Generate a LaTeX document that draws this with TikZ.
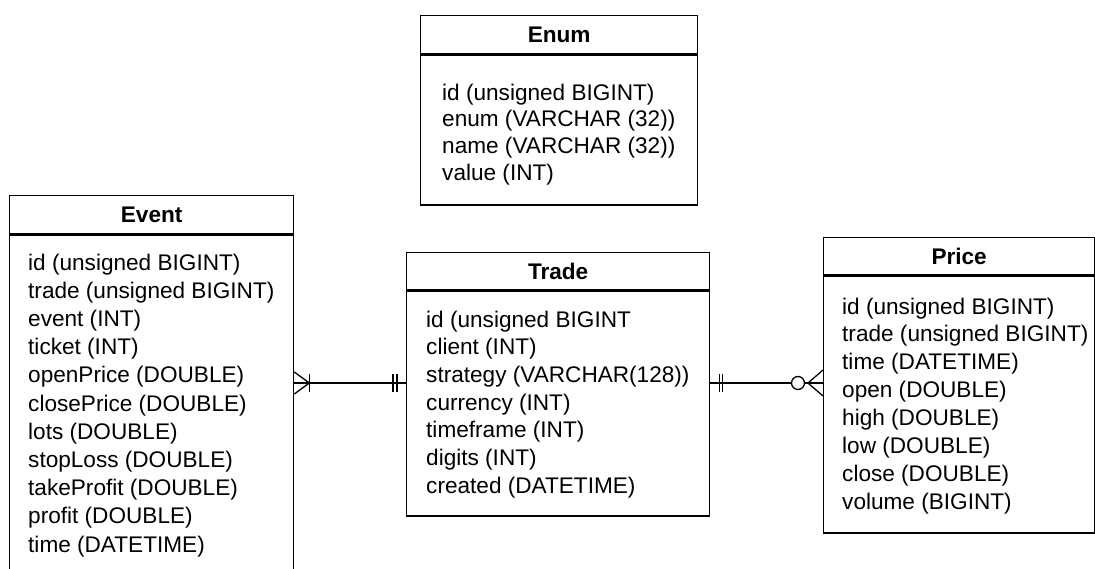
\documentclass[tikz,border=0pt]{standalone}
\usepackage{fontspec}
\setmainfont{Liberation Sans}

\begin{document}
\begin{tikzpicture}[x=1pt, y=-1pt]
\tikzset{tablehead/.style={draw, line width=1.3pt, anchor=north west, inner sep=0pt, font=\fontsize{22.6}{28}\selectfont\bfseries}}
\tikzset{tablebody/.style={draw, line width=1.3pt, anchor=north west, inner sep=0pt}}
\tikzset{field/.style={anchor=base west, inner sep=0pt, font=\fontsize{22.6}{28}\selectfont}}
\tikzset{rel/.style={line width=1.3pt}}
\useasboundingbox (0, 0) rectangle (1095, 568);
\clip (0, 0) rectangle (1095, 568);
% Enum
\node[tablehead, minimum width=277pt, minimum height=38pt] (enumhead) at (420, 15) {Enum};
\node[tablebody, minimum width=277pt, minimum height=150pt] (enumbody) at (enumhead.south west) {};
\foreach \txt [count=\i from 0] in {id (unsigned BIGINT), enum (VARCHAR (32)), name (VARCHAR (32)), value (INT)}
  \node[field] (enum-f\i) at (442, 100+\i*26.7) {\txt};
% Event
\node[tablehead, minimum width=284pt, minimum height=38pt] (eventhead) at (9, 195) {Event};
\node[tablebody, minimum width=284pt, minimum height=360pt] (eventbody) at (eventhead.south west) {};
\foreach \txt [count=\i from 0] in {id (unsigned BIGINT), trade (unsigned BIGINT), event (INT), ticket (INT), openPrice (DOUBLE), closePrice (DOUBLE), lots (DOUBLE), stopLoss (DOUBLE), takeProfit (DOUBLE), profit (DOUBLE), time (DATETIME)}
  \node[field] (event-f\i) at (28, 270+\i*28.2) {\txt};
% Trade
\node[tablehead, minimum width=303pt, minimum height=37pt] (tradehead) at (406, 252) {Trade};
\node[tablebody, minimum width=303pt, minimum height=225pt] (tradebody) at (tradehead.south west) {};
\foreach \txt [count=\i from 0] in {id (unsigned BIGINT, client (INT), strategy (VARCHAR(128)), currency (INT), timeframe (INT), digits (INT), created (DATETIME)}
  \node[field] (trade-f\i) at (426, 327+\i*27.7) {\txt};
% Price
\node[tablehead, minimum width=271pt, minimum height=37pt] (pricehead) at (823, 237) {Price};
\node[tablebody, minimum width=271pt, minimum height=257pt] (pricebody) at (pricehead.south west) {};
\foreach \txt [count=\i from 0] in {id (unsigned BIGINT), trade (unsigned BIGINT), time (DATETIME), open (DOUBLE), high (DOUBLE), low (DOUBLE), close (DOUBLE), volume (BIGINT)}
  \node[field] (price-f\i) at (842, 314+\i*27.9) {\txt};
% relations
\coordinate (evt-r) at (eventbody.east |- 0,383);
\coordinate (trd-l) at (tradebody.west |- 0,383);
\coordinate (trd-r) at (tradebody.east |- 0,383);
\coordinate (prc-l) at (pricebody.west |- 0,383);
\node[draw, circle, line width=1.3pt, minimum size=13pt, inner sep=0pt] (zero) at (798, 383) {};
\draw[rel] (evt-r) -- (trd-l);
\draw[rel] (evt-r) +(0, -11) -- +(15, 0) -- +(0, 11);
\draw[rel] (evt-r) +(15, -9) -- +(15, 9);
\draw[rel] (trd-l) +(-13, -9) -- +(-13, 9) +(-9, -9) -- +(-9, 9);
\draw[rel] (trd-r) -- (zero);
\draw[rel] (trd-r) +(9, -9) -- +(9, 9) +(12, -9) -- +(12, 9);
\draw[rel] (zero) -- (prc-l);
\draw[rel] (prc-l) +(0, -13) -- +(-15, 0) -- +(0, 13);
\end{tikzpicture}
\end{document}
